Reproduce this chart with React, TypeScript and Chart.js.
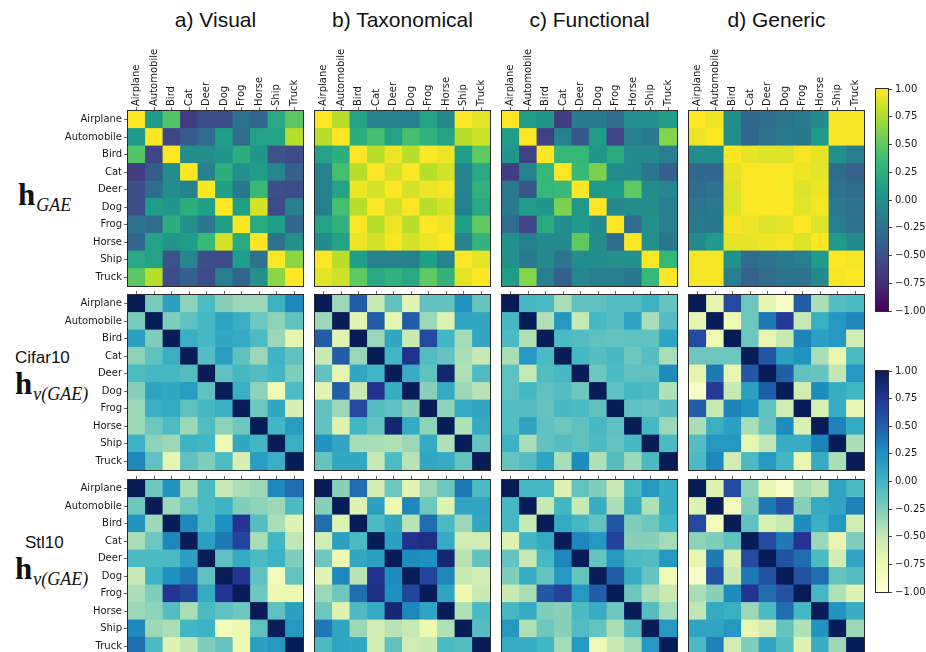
import React, { useEffect, useRef } from 'react';
import { Chart, registerables } from 'chart.js';

Chart.register(...registerables);
Chart.defaults.font.family = "'DejaVu Sans', sans-serif";

// ---------------- data ----------------
const classes = ['Airplane', 'Automobile', 'Bird', 'Cat', 'Deer', 'Dog', 'Frog', 'Horse', 'Ship', 'Truck'];
const columnTitles = ['a) Visual', 'b) Taxonomical', 'c) Functional', 'd) Generic'];
const datasetNames = ['Cifar10', 'Stl10'];
const colorbarTicks = [1, 0.75, 0.5, 0.25, 0, -0.25, -0.5, -0.75, -1];

const visualGAE = [
  [1, 0.08, 0.45, -0.65, -0.52, -0.52, -0.25, -0.35, 0.2, 0.48],
  [0.08, 1, -0.58, -0.42, -0.3, 0.1, -0.3, 0.15, 0.15, 0.78],
  [0.45, -0.58, 1, -0.02, -0.02, 0.05, 0.25, 0.05, -0.5, -0.55],
  [-0.65, -0.42, -0.02, 1, -0.12, 0.25, 0.0, 0.1, -0.08, -0.4],
  [-0.52, -0.3, -0.02, -0.12, 1, 0.13, -0.2, 0.35, -0.52, -0.55],
  [-0.52, 0.1, 0.05, 0.25, 0.13, 1, 0.13, 0.88, -0.55, -0.15],
  [-0.25, -0.3, 0.25, 0.0, -0.2, 0.13, 1, 0.22, 0.12, -0.35],
  [-0.35, 0.15, 0.05, 0.1, 0.35, 0.88, 0.22, 1, -0.25, 0.0],
  [0.2, 0.15, -0.5, -0.08, -0.52, -0.55, 0.12, -0.25, 1, 0.65],
  [0.48, 0.78, -0.55, -0.4, -0.55, -0.15, -0.35, 0.0, 0.65, 1],
];
const taxonomicalGAE = [
  [1, 0.78, 0.15, -0.1, -0.1, -0.12, 0.15, -0.05, 1.0, 0.92],
  [0.78, 1, 0.25, 0.4, 0.15, 0.4, 0.28, 0.15, 0.78, 0.85],
  [0.15, 0.25, 1, 0.78, 0.95, 0.78, 0.99, 0.95, 0.12, 0.5],
  [-0.1, 0.4, 0.78, 1, 0.87, 0.99, 0.78, 0.87, -0.1, 0.2],
  [-0.1, 0.15, 0.95, 0.87, 1, 0.87, 0.95, 0.98, -0.1, 0.28],
  [-0.12, 0.4, 0.78, 0.99, 0.87, 1, 0.78, 0.87, -0.12, 0.2],
  [0.15, 0.28, 0.99, 0.78, 0.95, 0.78, 1, 0.95, 0.12, 0.5],
  [-0.05, 0.15, 0.95, 0.87, 0.98, 0.87, 0.95, 1, -0.1, 0.3],
  [1.0, 0.78, 0.12, -0.1, -0.1, -0.12, 0.12, -0.1, 1, 0.92],
  [0.92, 0.85, 0.5, 0.2, 0.28, 0.2, 0.5, 0.3, 0.92, 1],
];
const functionalGAE = [
  [1, 0.1, 0.05, -0.65, -0.18, -0.18, -0.3, 0.0, 0.0, 0.1],
  [0.1, 1, -0.62, -0.1, -0.45, 0.1, -0.6, -0.12, -0.18, 0.62],
  [0.05, -0.62, 1, 0.33, 0.33, 0.05, 0.22, -0.05, -0.05, -0.15],
  [-0.65, -0.1, 0.33, 1, 0.35, 0.6, -0.02, -0.05, -0.22, -0.4],
  [-0.18, -0.45, 0.33, 0.35, 1, 0.07, 0.08, 0.5, -0.02, -0.08],
  [-0.18, 0.1, 0.05, 0.6, 0.07, 1, -0.05, -0.02, -0.02, -0.15],
  [-0.3, -0.6, 0.22, -0.02, 0.08, -0.05, 1, -0.3, 0.0, -0.15],
  [0.0, -0.12, -0.05, -0.05, 0.5, -0.02, -0.3, 1, 0.0, -0.2],
  [0.0, -0.18, -0.05, -0.22, -0.02, -0.02, 0.0, 0.0, 1, 0.33],
  [0.1, 0.62, -0.15, -0.4, -0.08, -0.15, -0.15, -0.2, 0.33, 1],
];
const genericGAE = [
  [1, 0.95, -0.02, -0.33, -0.3, -0.22, -0.18, -0.05, 0.98, 0.98],
  [0.95, 1, -0.02, -0.35, -0.25, -0.18, -0.2, 0.08, 0.98, 0.98],
  [-0.02, -0.02, 1, 0.93, 0.9, 0.9, 0.98, 0.93, 0.0, -0.15],
  [-0.33, -0.35, 0.93, 1, 1.0, 0.99, 0.95, 0.93, -0.3, -0.38],
  [-0.3, -0.25, 0.9, 1.0, 1, 0.99, 0.9, 0.95, -0.25, -0.3],
  [-0.22, -0.18, 0.9, 0.99, 0.99, 1, 0.92, 0.97, -0.18, -0.25],
  [-0.18, -0.2, 0.98, 0.95, 0.9, 0.92, 1, 0.9, -0.15, -0.25],
  [-0.05, 0.08, 0.93, 0.93, 0.95, 0.97, 0.9, 1, 0.08, -0.05],
  [0.98, 0.98, 0.0, -0.3, -0.25, -0.18, -0.15, 0.08, 1, 0.98],
  [0.98, 0.98, -0.15, -0.38, -0.3, -0.25, -0.25, -0.05, 0.98, 1],
];

const visualCifar = [
  [1, -0.22, 0.15, -0.3, -0.05, -0.28, -0.35, -0.35, 0.03, 0.3],
  [-0.22, 1, -0.25, -0.12, -0.02, 0.13, 0.05, -0.18, -0.3, -0.12],
  [0.15, -0.25, 1, 0.05, -0.02, 0.1, 0.08, -0.05, -0.35, -0.7],
  [-0.3, -0.12, 0.05, 1, -0.08, 0.17, -0.12, -0.35, 0.02, -0.12],
  [-0.05, -0.02, -0.02, -0.08, 1, -0.12, -0.02, -0.07, 0.0, -0.25],
  [-0.28, 0.13, 0.1, 0.17, -0.12, 1, 0.05, -0.3, -0.78, -0.05],
  [-0.35, 0.05, 0.08, -0.12, -0.02, 0.05, 1, -0.18, 0.1, -0.6],
  [-0.35, -0.18, -0.05, -0.35, -0.07, -0.3, -0.18, 1, 0.0, 0.17],
  [0.03, -0.3, -0.35, 0.02, 0.0, -0.78, 0.1, 0.0, 1, 0.05],
  [0.3, -0.12, -0.7, -0.12, -0.25, -0.05, -0.6, 0.17, 0.05, 1],
];
const taxonomicalCifar = [
  [1, -0.35, 0.5, -0.52, -0.13, -0.68, -0.13, -0.13, 0.22, -0.15],
  [-0.35, 1, -0.68, 0.5, -0.7, 0.5, -0.35, -0.65, 0.12, 0.1],
  [0.5, -0.68, 1, -0.33, 0.1, -0.52, 0.62, 0.0, -0.38, 0.1],
  [-0.52, 0.5, -0.33, 1, 0.0, 0.78, -0.07, -0.14, -0.4, -0.5],
  [-0.13, -0.7, 0.1, 0.0, 1, 0.07, -0.12, 0.9, -0.42, -0.05],
  [-0.68, 0.5, -0.52, 0.78, 0.07, 1, -0.28, 0.08, -0.35, -0.45],
  [-0.13, -0.35, 0.62, -0.07, -0.12, -0.28, 1, -0.3, 0.08, 0.1],
  [-0.13, -0.65, 0.0, -0.14, 0.9, 0.08, -0.3, 1, -0.42, 0.08],
  [0.22, 0.12, -0.38, -0.4, -0.42, -0.35, 0.08, -0.42, 1, -0.15],
  [-0.15, 0.1, 0.1, -0.5, -0.05, -0.45, 0.1, 0.08, -0.15, 1],
];
const functionalCifar = [
  [1, -0.02, -0.04, -0.4, -0.12, -0.12, -0.08, -0.08, 0.03, -0.15],
  [-0.02, 1, -0.42, 0.2, -0.5, -0.02, -0.08, 0.13, -0.4, -0.08],
  [-0.04, -0.42, 1, -0.04, -0.07, -0.12, -0.14, -0.12, -0.13, 0.13],
  [-0.4, 0.2, -0.04, 1, -0.02, -0.08, -0.03, -0.18, -0.08, -0.4],
  [-0.12, -0.5, -0.07, -0.02, 1, -0.18, -0.04, -0.12, -0.12, 0.27],
  [-0.12, -0.02, -0.12, -0.08, -0.18, 1, -0.12, -0.02, -0.04, -0.42],
  [-0.08, -0.08, -0.14, -0.03, -0.04, -0.12, 1, -0.12, -0.14, -0.08],
  [-0.08, 0.13, -0.12, -0.18, -0.12, -0.02, -0.12, 1, -0.02, -0.35],
  [0.03, -0.4, -0.13, -0.08, -0.12, -0.04, -0.14, -0.02, 1, -0.04],
  [-0.15, -0.08, 0.13, -0.4, 0.27, -0.42, -0.08, -0.35, -0.04, 1],
];
const genericCifar = [
  [1, -0.7, 0.62, -0.18, -0.7, -0.88, 0.5, -0.4, -0.08, -0.04],
  [-0.7, 1, -0.77, -0.18, 0.37, 0.72, -0.5, 0.05, 0.2, 0.3],
  [0.62, -0.77, 1, -0.18, -0.72, -0.5, 0.32, 0.15, 0.2, -0.57],
  [-0.18, -0.18, -0.18, 1, 0.55, 0.15, 0.23, -0.4, -0.72, -0.04],
  [-0.7, 0.37, -0.72, 0.55, 1, 0.5, -0.12, -0.15, -0.48, 0.2],
  [-0.88, 0.72, -0.5, 0.15, 0.5, 1, -0.57, 0.27, 0.07, 0.0],
  [0.5, -0.5, 0.32, 0.23, -0.12, -0.57, 1, -0.62, 0.07, -0.72],
  [-0.4, 0.05, 0.15, -0.4, -0.15, 0.27, -0.62, 1, 0.32, 0.08],
  [-0.08, 0.2, 0.2, -0.72, -0.48, 0.07, 0.07, 0.32, 1, -0.4],
  [-0.04, 0.3, -0.57, -0.04, 0.2, 0.0, -0.72, 0.08, -0.4, 1],
];

const visualStl = [
  [1, -0.18, 0.22, -0.4, -0.04, -0.5, -0.4, -0.35, 0.3, 0.42],
  [-0.18, 1, -0.35, -0.18, -0.04, 0.03, -0.25, -0.3, -0.35, -0.04],
  [0.22, -0.35, 1, 0.3, -0.04, 0.25, 0.75, -0.08, -0.4, -0.65],
  [-0.4, -0.18, 0.3, 1, 0.15, 0.37, 0.65, -0.4, 0.0, -0.48],
  [-0.04, -0.04, -0.04, 0.15, 1, -0.12, 0.08, -0.04, 0.03, -0.25],
  [-0.5, 0.03, 0.25, 0.37, -0.12, 1, 0.75, -0.12, -0.82, -0.14],
  [-0.4, -0.25, 0.75, 0.65, 0.08, 0.75, 1, -0.18, -0.75, -0.75],
  [-0.35, -0.3, -0.08, -0.4, -0.04, -0.12, -0.18, 1, -0.12, 0.15],
  [0.3, -0.35, -0.4, 0.0, 0.03, -0.82, -0.75, -0.12, 1, 0.2],
  [0.42, -0.04, -0.65, -0.48, -0.25, -0.14, -0.75, 0.15, 0.2, 1],
];
const taxonomicalStl = [
  [1, -0.28, 0.42, -0.57, -0.18, -0.68, -0.35, -0.18, 0.37, -0.04],
  [-0.28, 1, -0.65, 0.15, -0.75, 0.3, -0.18, -0.65, 0.12, 0.12],
  [0.42, -0.65, 1, -0.04, 0.1, -0.45, 0.42, -0.04, -0.35, 0.1],
  [-0.57, 0.15, -0.04, 1, 0.15, 0.78, 0.82, 0.08, -0.57, -0.57],
  [-0.18, -0.75, 0.1, 0.15, 1, 0.27, 0.25, 0.88, -0.45, -0.13],
  [-0.68, 0.3, -0.45, 0.78, 0.27, 1, 0.65, 0.3, -0.5, -0.57],
  [-0.35, -0.18, 0.42, 0.82, 0.25, 0.65, 1, 0.12, -0.75, -0.52],
  [-0.18, -0.65, -0.04, 0.08, 0.88, 0.3, 0.12, 1, -0.42, -0.04],
  [0.37, 0.12, -0.35, -0.57, -0.45, -0.5, -0.75, -0.42, 1, -0.08],
  [-0.04, 0.12, 0.1, -0.57, -0.13, -0.57, -0.52, -0.04, -0.08, 1],
];
const functionalStl = [
  [1, -0.02, -0.02, -0.65, -0.14, -0.25, -0.52, -0.02, 0.2, 0.07],
  [-0.02, 1, -0.5, -0.01, -0.5, 0.06, -0.4, 0.08, -0.42, 0.06],
  [-0.02, -0.5, 1, 0.08, -0.02, -0.14, 0.55, -0.25, -0.18, 0.0],
  [-0.65, -0.01, 0.08, 1, 0.3, 0.2, 0.68, -0.28, -0.28, -0.38],
  [-0.14, -0.5, -0.02, 0.3, 1, -0.15, 0.2, -0.04, -0.07, 0.2],
  [-0.25, 0.06, -0.14, 0.2, -0.15, 1, 0.5, 0.07, -0.14, -0.78],
  [-0.52, -0.4, 0.55, 0.68, 0.2, 0.5, 1, -0.18, -0.4, -0.52],
  [-0.02, 0.08, -0.25, -0.28, -0.04, 0.07, -0.18, 1, -0.08, -0.38],
  [0.2, -0.42, -0.18, -0.28, -0.07, -0.14, -0.4, -0.08, 1, 0.2],
  [0.07, 0.06, 0.0, -0.38, 0.2, -0.78, -0.52, -0.38, 0.2, 1],
];
const genericStl = [
  [1, -0.65, 0.62, -0.3, -0.72, -0.9, -0.4, -0.48, 0.12, -0.04],
  [-0.65, 1, -0.82, -0.25, 0.37, 0.57, -0.28, 0.08, 0.12, 0.33],
  [0.62, -0.82, 1, -0.12, -0.62, -0.5, 0.27, 0.04, 0.2, -0.57],
  [-0.3, -0.25, -0.12, 1, 0.62, 0.37, 0.75, -0.35, -0.72, -0.25],
  [-0.72, 0.37, -0.62, 0.62, 1, 0.57, 0.42, -0.04, -0.57, 0.12],
  [-0.9, 0.57, -0.5, 0.37, 0.57, 1, 0.57, 0.42, -0.14, -0.08],
  [-0.4, -0.28, 0.27, 0.75, 0.42, 0.57, 1, -0.02, -0.42, -0.65],
  [-0.48, 0.08, 0.04, -0.35, -0.04, 0.42, -0.02, 1, 0.22, 0.06],
  [0.12, 0.12, 0.2, -0.72, -0.57, -0.14, -0.42, 0.22, 1, -0.35],
  [-0.04, 0.33, -0.57, -0.25, 0.12, -0.08, -0.65, 0.06, -0.35, 1],
];

const gaeRow = [visualGAE, taxonomicalGAE, functionalGAE, genericGAE];
const cifarRow = [visualCifar, taxonomicalCifar, functionalCifar, genericCifar];
const stlRow = [visualStl, taxonomicalStl, functionalStl, genericStl];

// ---------------- colour maps ----------------
const VIRIDIS = ['#440154', '#482878', '#3e4a89', '#31688e', '#26828e', '#1f9e89', '#35b779', '#6ece58', '#b5de2b', '#fde725'];
const YLGNBU = ['#ffffd9', '#edf8b1', '#c7e9b4', '#7fcdbb', '#41b6c4', '#1d91c0', '#225ea8', '#253494', '#081d58'];

function hexToRgb(h: string) {
  const n = parseInt(h.slice(1), 16);
  return [(n >> 16) & 255, (n >> 8) & 255, n & 255];
}
function colormap(stops: string[], v: number) {
  const t = Math.min(1, Math.max(0, (v + 1) / 2));
  const n = stops.length - 1;
  const p = t * n;
  const i = Math.min(n - 1, Math.floor(p));
  const f = p - i;
  const a = hexToRgb(stops[i]);
  const b = hexToRgb(stops[i + 1]);
  const c = a.map((x, k) => Math.round(x + (b[k] - x) * f));
  return `rgb(${c[0]},${c[1]},${c[2]})`;
}

// ---------------- layout ----------------
const HM_LEFT = [128, 315, 502, 689];
const HM_TOP = [111, 295, 480];
const HM_SIZE = 175;

const framePlugin = {
  id: 'frame',
  afterDatasetsDraw(chart: any) {
    const { ctx, chartArea: a } = chart;
    ctx.save();
    ctx.strokeStyle = '#2b2b2b';
    ctx.lineWidth = 1;
    ctx.strokeRect(Math.round(a.left) - 0.5, Math.round(a.top) - 0.5, Math.round(a.right - a.left) + 1, Math.round(a.bottom - a.top) + 1);
    ctx.restore();
  },
};

const tickFont = { family: "'DejaVu Sans', sans-serif", size: 10 };

function Heatmap({ matrix, stops, left, top, showY, showX }: any) {
  const ref = useRef<HTMLCanvasElement>(null);
  const padL = showY ? 128 : 8;
  const padT = showX ? 100 : 8;
  const w = padL + HM_SIZE + 2;
  const h = padT + HM_SIZE + 2;
  useEffect(() => {
    const points: any[] = [];
    matrix.forEach((row: number[], i: number) =>
      row.forEach((v: number, j: number) => points.push({ x: classes[j], y: classes[i], v }))
    );
    const radius = (c: any) => {
      const a = c.chart.chartArea;
      if (!a) return 0;
      return ((a.right - a.left) / classes.length + 0.8) / Math.SQRT2;
    };
    const chart = new Chart(ref.current as HTMLCanvasElement, {
      type: 'scatter',
      data: {
        datasets: [
          {
            data: points,
            pointStyle: 'rect',
            pointRadius: radius,
            pointHoverRadius: radius,
            pointBorderWidth: 0,
            pointBackgroundColor: (c: any) => (c.raw ? colormap(stops, c.raw.v) : 'rgba(0,0,0,0)'),
          } as any,
        ],
      },
      options: {
        responsive: false,
        animation: false,
        events: [],
        layout: { padding: { left: 0, top: 0, right: 2, bottom: 2 } },
        plugins: { legend: { display: false }, tooltip: { enabled: false } },
        scales: {
          x: {
            type: 'category',
            labels: classes,
            position: 'top',
            offset: true,
            border: { display: false },
            grid: { display: true, drawOnChartArea: false, drawTicks: true, tickLength: 4, color: '#666' },
            ticks: {
              display: showX,
              autoSkip: false,
              minRotation: 90,
              maxRotation: 90,
              labelOffset: 12,
              padding: 1,
              color: '#1a1a1a',
              font: tickFont,
            },
            afterFit: (s: any) => {
              s.height = padT;
              s.paddingLeft = 0;
              s.paddingRight = 0;
            },
          },
          y: {
            type: 'category',
            labels: classes,
            position: 'left',
            offset: true,
            border: { display: false },
            grid: { display: showY, drawOnChartArea: false, drawTicks: true, tickLength: 4, color: '#666' },
            ticks: { display: showY, autoSkip: false, padding: 2, color: '#1a1a1a', font: tickFont },
            afterFit: (s: any) => {
              s.width = padL;
              s.paddingTop = 0;
              s.paddingBottom = 0;
            },
          },
        },
      } as any,
      plugins: [framePlugin],
    });
    return () => chart.destroy();
  }, []);
  return <canvas ref={ref} width={w} height={h} style={{ position: 'absolute', left: left - padL, top: top - padT }} />;
}

function fmtTick(v: number) {
  const s = Number(v).toFixed(2);
  return s.startsWith('-') ? '\u2212' + s.slice(1) : s;
}

function Colorbar({ stops, left, top, height }: any) {
  const ref = useRef<HTMLCanvasElement>(null);
  const padT = 8;
  const padB = 8;
  const barW = 12;
  const axisW = 48;
  useEffect(() => {
    const lo = Math.min(...colorbarTicks);
    const hi = Math.max(...colorbarTicks);
    const chart = new Chart(ref.current as HTMLCanvasElement, {
      type: 'bar',
      data: {
        labels: [''],
        datasets: [
          {
            data: [[lo, hi]],
            borderWidth: 0,
            barPercentage: 1,
            categoryPercentage: 1,
            backgroundColor: (c: any) => {
              const a = c.chart.chartArea;
              if (!a) return 'rgba(0,0,0,0)';
              const g = c.chart.ctx.createLinearGradient(0, a.bottom, 0, a.top);
              stops.forEach((col: string, k: number) => g.addColorStop(k / (stops.length - 1), col));
              return g;
            },
          } as any,
        ],
      },
      options: {
        responsive: false,
        animation: false,
        events: [],
        layout: { padding: { left: 1, top: padT, bottom: padB, right: 0 } },
        plugins: { legend: { display: false }, tooltip: { enabled: false } },
        scales: {
          x: { display: false },
          y: {
            position: 'right',
            min: lo,
            max: hi,
            border: { display: false },
            afterBuildTicks: (s: any) => {
              s.ticks = colorbarTicks.map((v) => ({ value: v }));
            },
            grid: { drawOnChartArea: false, drawTicks: true, tickLength: 4, color: '#444' },
            ticks: { callback: (v: any) => fmtTick(v), padding: 3, color: '#1a1a1a', font: tickFont },
            afterFit: (s: any) => {
              s.width = axisW;
              s.paddingTop = 0;
              s.paddingBottom = 0;
            },
          },
        },
      } as any,
      plugins: [framePlugin],
    });
    return () => chart.destroy();
  }, []);
  return (
    <canvas
      ref={ref}
      width={1 + barW + axisW}
      height={height + padT + padB}
      style={{ position: 'absolute', left: left - 1, top: top - padT }}
    />
  );
}

function MathLabel({ left, baseline, sub }: any) {
  const hSize = 31;
  const sSize = 18;
  return (
    <div style={{ position: 'absolute', left, top: baseline - 0.84 * hSize, whiteSpace: 'nowrap', color: '#111', fontFamily: "'Liberation Serif', 'DejaVu Serif', serif" }}>
      <span style={{ fontWeight: 'bold', fontSize: hSize, lineHeight: hSize + 'px' }}>h</span>
      <span style={{ fontStyle: 'italic', fontSize: sSize, lineHeight: sSize + 'px', position: 'relative', top: 6, marginLeft: 1 }}>{sub}</span>
    </div>
  );
}

function SansLabel({ text, left, baseline, size }: any) {
  return (
    <div style={{ position: 'absolute', left, top: baseline - 0.85 * size, fontSize: size, lineHeight: size + 'px', whiteSpace: 'nowrap', color: '#111', fontFamily: "'Liberation Sans', Arial, sans-serif" }}>
      {text}
    </div>
  );
}

export default function App() {
  const rows = [gaeRow, cifarRow, stlRow];
  return (
    <div style={{ position: 'fixed', left: 0, top: 0, width: 926, height: 652, overflow: 'hidden', background: '#fff' }}>
      {columnTitles.map((t, c) => (
        <div
          key={t}
          style={{
            position: 'absolute',
            left: HM_LEFT[c] + HM_SIZE / 2 - 120,
            width: 240,
            top: 8,
            textAlign: 'center',
            fontSize: 21,
            lineHeight: '24px',
            color: '#111',
            fontFamily: "'Liberation Sans', Arial, sans-serif",
          }}
        >
          {t}
        </div>
      ))}

      <MathLabel left={18} baseline={205} sub="GAE" />
      <SansLabel text={datasetNames[0]} left={15} baseline={363} size={17} />
      <MathLabel left={15} baseline={394} sub="v(GAE)" />
      <SansLabel text={datasetNames[1]} left={25} baseline={548} size={17} />
      <MathLabel left={15} baseline={579} sub="v(GAE)" />

      {rows.map((row, r) =>
        row.map((m, c) => (
          <Heatmap
            key={`${r}-${c}`}
            matrix={m}
            stops={r === 0 ? VIRIDIS : YLGNBU}
            left={HM_LEFT[c]}
            top={HM_TOP[r]}
            showY={c === 0}
            showX={r === 0}
          />
        ))
      )}

      <Colorbar stops={VIRIDIS} left={876} top={89} height={222} />
      <Colorbar stops={YLGNBU} left={876} top={371} height={221} />
    </div>
  );
}
